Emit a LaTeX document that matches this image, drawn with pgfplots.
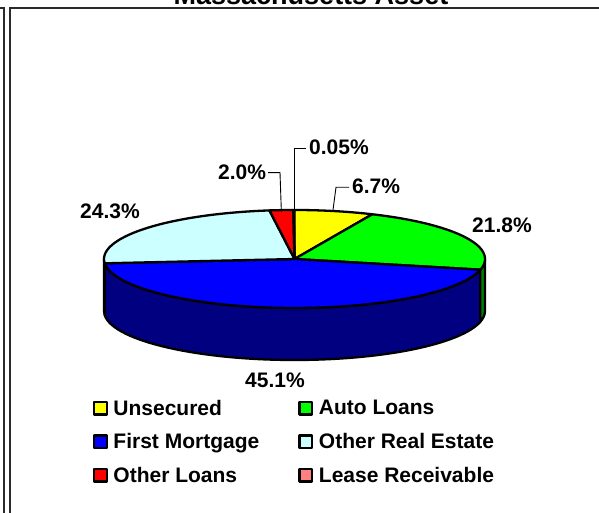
\documentclass[border=0pt]{standalone}
\usepackage{pgfplots}
\pgfplotsset{compat=1.18}
\usepackage{fontspec}
\setmainfont{Liberation Sans}
\definecolor{unsec}{HTML}{FFFF00}
\definecolor{autol}{HTML}{00FF00}
\definecolor{firstm}{HTML}{0000FF}
\definecolor{otherre}{HTML}{CCFFFF}
\definecolor{otherl}{HTML}{FF0000}
\definecolor{lease}{HTML}{FF8080}
\definecolor{autoside}{HTML}{008000}
\definecolor{firstside}{HTML}{000080}
\definecolor{otherreside}{HTML}{668080}
\definecolor{framec}{HTML}{2A2A2A}

% Pie geometry in axis units (1 unit = 1pt)
\def\cx{294.5}\def\cy{254}\def\rx{190.5}\def\ry{49}\def\depth{52}
\gdef\tcum{0}

% Top face of one slice with its legend entry: share in percent, fill colour, name
\newcommand\pieslice[3]{%
  \pgfmathsetmacro\tend{\tcum+3.6*#1}%
  \edef\temp{\noexpand\addplot[draw=black,line width=2.3pt,line join=round,fill=#2,
    no markers,samples=50,domain=\tcum:\tend]
    ({\cx+\rx*sin(x)},{\cy+\ry*cos(x)}) -- (axis cs:\cx,\cy) -- cycle;}\temp
  \addlegendentry{#3}%
  \xdef\tcum{\tend}}

% Visible rim between two clockwise angles
\newcommand\pieside[3]{%
  \pgfmathsetmacro\astart{90-#2}\pgfmathsetmacro\aend{90-#1}%
  \edef\temp{\noexpand\addplot[forget plot,draw=black,line width=2.3pt,line join=round,fill=#3,
    no markers,samples=50,domain=#1:#2]
    ({\cx+\rx*sin(x)},{\cy+\ry*cos(x)}) -- ++(0pt,-\depth pt)
    arc[start angle=\astart,end angle=\aend,x radius=\rx pt,y radius=\ry pt] -- cycle;}\temp}

\begin{document}
\begin{tikzpicture}[x=1pt,y=1pt]
\useasboundingbox (0,0) rectangle (599,513);
\clip (0,0) rectangle (599,513);
\begin{axis}[
  at={(0,0)},anchor=south west,
  scale only axis,width=599pt,height=513pt,
  xmin=0,xmax=599,ymin=0,ymax=513,
  axis lines=none,clip=false,
  legend columns=2,
  legend cell align=left,
  legend image code/.code={%
    \draw[#1,draw=black,line width=2.2pt] (0pt,-6.2pt) rectangle (12.6pt,6.4pt);
    \path (15pt,0pt);},
  legend style={
    draw=none,fill=none,
    at={(axis cs:93,114)},anchor=north west,
    font=\fontsize{21}{21}\selectfont\bfseries,
    inner sep=0pt,outer sep=0pt,
    row sep=14.8pt,
    nodes={inner xsep=3.2pt,inner ysep=1pt},
    /tikz/every even column/.append style={column sep=36pt},
  },
]
% Rim of the pie, front half only
\pieside{102.816}{265.14}{firstside}
\pieside{90}{102.816}{autoside}
\pieside{265.14}{270}{otherreside}

% Slice shares in percent, clockwise from twelve o'clock
\pieslice{6.7}{unsec}{Unsecured}
\pieslice{21.8}{autol}{Auto Loans}
\pieslice{45.1}{firstm}{First Mortgage}
\pieslice{24.3}{otherre}{Other Real Estate}
\pieslice{2.0}{otherl}{Other Loans}
\pieslice{0.05}{lease}{Lease Receivable}

% Leader lines
\draw[black,line width=0.9pt] (axis cs:294.5,303) -- (axis cs:294.5,364.3) -- (axis cs:306,364.3);
\draw[black,line width=0.9pt] (axis cs:281.3,303) -- (axis cs:280,340.3) -- (axis cs:268,340.3);
\draw[black,line width=0.9pt] (axis cs:333,303) -- (axis cs:336,325.7) -- (axis cs:349,325.7);

% Data labels
\node[anchor=base west,inner sep=0pt,font=\fontsize{21}{21}\selectfont\bfseries] at (axis cs:309,358) {0.05\%};
\node[anchor=base west,inner sep=0pt,font=\fontsize{21}{21}\selectfont\bfseries] at (axis cs:218,333) {2.0\%};
\node[anchor=base west,inner sep=0pt,font=\fontsize{21}{21}\selectfont\bfseries] at (axis cs:80,294) {24.3\%};
\node[anchor=base west,inner sep=0pt,font=\fontsize{21}{21}\selectfont\bfseries] at (axis cs:472,280) {21.8\%};
\node[anchor=base west,inner sep=0pt,font=\fontsize{21}{21}\selectfont\bfseries] at (axis cs:352,319) {6.7\%};
\node[anchor=base west,inner sep=0pt,font=\fontsize{21}{21}\selectfont\bfseries] at (axis cs:245,125) {45.1\%};

% Title, running off the top edge
\node[anchor=base,inner sep=0pt,font=\fontsize{27}{27}\selectfont\bfseries] at (axis cs:311,508.5) {Massachusetts Asset};

% Panel frame
\draw[framec,line width=2pt] (axis cs:0,504.5) -- (axis cs:3.8,504.5) -- (axis cs:3.8,0);
\draw[framec,line width=2pt] (axis cs:9.5,0) -- (axis cs:9.5,504.5) -- (axis cs:599,504.5);
\end{axis}
\end{tikzpicture}
\end{document}
